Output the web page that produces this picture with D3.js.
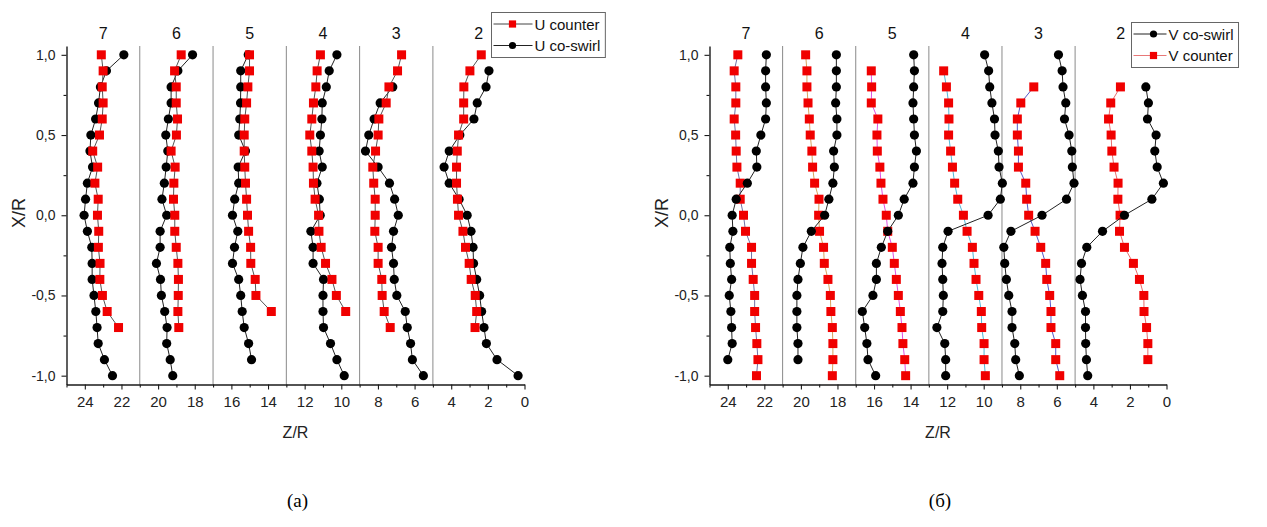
<!DOCTYPE html>
<html>
<head>
<meta charset="utf-8">
<script src="https://cdn.jsdelivr.net/npm/d3@7"></script>
<style>
  html, body { margin: 0; padding: 0; background: #fff; }
  svg { display: block; font-family: Arial, "Liberation Sans", sans-serif; }
</style>
</head>
<body>
<svg id="fig" width="1267" height="527"></svg>
<script>
// Radial stations X/R, from top to bottom of each profile
const xrLevels = [1.0, 0.9, 0.8, 0.7, 0.6, 0.5, 0.4, 0.3, 0.2, 0.1, 0.0,
                  -0.1, -0.2, -0.3, -0.4, -0.5, -0.6, -0.7, -0.8, -0.9, -1.0];

// Cross-sections, left to right, and their Z/R borders
const panelNames = ["7", "6", "5", "4", "3", "2"];
const panelEdges = [25, 21, 17, 13, 9, 5, 0];

// Axis ticks
const zTicks = [24, 22, 20, 18, 16, 14, 12, 10, 8, 6, 4, 2, 0];
const zMinorTicks = [25, 23, 21, 19, 17, 15, 13, 11, 9, 7, 5, 3, 1];
const xrTicks = [1.0, 0.5, 0.0, -0.5, -1.0];
const xrMinorTicks = [0.75, 0.25, -0.25, -0.75];

// (a) axial velocity U, one row per section (7 ... 2); null = no measurement
const uCounter = [
  [23.1, 23.0, 23.05, 23.0, 23.05, 23.2, 23.57, 23.3, 23.45, 23.27, 23.31, 23.24, 23.26, 23.17, 23.18, 23.04, 22.78, 22.16, null, null, null],
  [18.74, 19.1, 19.01, 19.01, 18.94, 19.0, 19.29, 19.07, 19.14, 19.16, 19.09, 19.09, 19.01, 18.92, 18.89, 18.9, 18.92, 18.87, null, null, null],
  [15.01, 15.01, 15.1, 15.17, 15.27, 15.3, 15.3, 15.27, 15.23, 15.17, 15.12, 15.06, 14.95, 14.94, 14.7, 14.66, 13.82, null, null, null, null],
  [11.14, 11.32, 11.39, 11.52, 11.61, 11.72, 11.61, 11.54, 11.52, 11.43, 11.24, 11.22, 11.1, 10.86, 10.51, 10.27, 9.76, null, null, null, null],
  [6.71, 6.93, 7.4, 7.55, 7.95, 7.99, 8.13, 8.28, 8.23, 8.15, 8.15, 8.17, 7.99, 7.99, 7.79, 7.77, 7.66, 7.33, null, null, null],
  [2.36, 2.98, 3.31, 3.32, 3.32, 3.6, 3.67, 3.71, 3.71, 3.66, 3.6, 3.36, 3.22, 3.02, 2.91, 2.69, 2.61, 2.7, null, null, null]
];
const uCoSwirl = [
  [21.87, 22.82, 23.15, 23.25, 23.41, 23.67, 23.72, 23.58, 23.86, 23.96, 24.04, 23.86, 23.62, 23.6, 23.6, 23.5, 23.4, 23.33, 23.27, 22.93, 22.49],
  [18.12, 18.92, 19.29, 19.29, 19.44, 19.58, 19.47, 19.56, 19.66, 19.79, 19.53, 19.89, 19.89, 20.09, 19.87, 19.82, 19.64, 19.51, 19.53, 19.34, 19.2],
  [15.08, 15.49, 15.49, 15.5, 15.54, 15.6, 15.23, 15.63, 15.6, 15.82, 15.94, 15.65, 15.83, 15.94, 15.6, 15.49, 15.41, 15.3, 15.06, 14.9, null],
  [10.24, 10.66, 10.82, 11.04, 11.06, 11.14, 11.21, 11.04, 11.33, 11.2, 11.15, 11.66, 11.54, 11.54, 10.97, 11.0, 11.0, 10.97, 10.59, 10.24, 9.84],
  [null, null, 7.19, 7.88, 8.21, 8.5, 8.68, 7.99, 7.37, 7.09, 6.89, 7.15, 7.26, 7.15, 7.11, 6.97, 6.51, 6.4, 6.22, 6.12, 5.52],
  [null, 1.94, 2.1, 2.58, 2.76, 3.53, 4.11, 4.39, 4.11, 3.57, 3.13, 2.92, 2.81, 2.78, 2.61, 2.45, 2.34, 2.21, 2.08, 1.5, 0.35]
];

// (б) tangential velocity V
const vCoSwirl = [
  [21.89, 21.93, 21.93, 21.89, 21.93, 22.19, 22.44, 22.41, 22.93, 23.54, 23.76, 23.72, 23.89, 23.86, 23.79, 23.92, 23.83, 23.79, 23.76, 24.0, null],
  [18.06, 18.06, 18.06, 18.1, 18.03, 18.03, 18.21, 18.17, 18.25, 18.47, 18.7, 19.43, 19.89, 20.03, 20.16, 20.22, 20.22, 20.22, 20.16, 20.16, null],
  [13.83, 13.79, 13.83, 13.87, 13.83, 13.79, 13.68, 13.79, 13.87, 14.35, 14.67, 15.25, 15.6, 15.87, 15.87, 16.06, 16.64, 16.51, 16.39, 16.33, 15.91],
  [9.95, 9.73, 9.67, 9.55, 9.41, 9.38, 9.2, 9.16, 8.98, 9.09, 9.76, 11.95, 12.24, 12.28, 12.24, 12.21, 12.24, 12.56, 12.13, 12.08, 12.08],
  [5.91, 5.71, 5.66, 5.51, 5.58, 5.33, 5.18, 5.15, 5.06, 5.47, 6.81, 8.51, 8.9, 8.85, 8.76, 8.63, 8.45, 8.45, 8.3, 8.25, 8.05],
  [null, null, 1.13, 0.99, 1.04, 0.57, 0.64, 0.51, 0.17, 0.8, 2.3, 3.5, 4.36, 4.65, 4.73, 4.6, 4.43, 4.43, 4.42, 4.38, 4.31]
];
const vCounter = [
  [23.45, 23.65, 23.56, 23.56, 23.65, 23.57, 23.54, 23.5, 23.32, 23.32, 23.14, 23.03, 22.7, 22.7, 22.61, 22.53, 22.53, 22.48, 22.41, 22.35, 22.43],
  [19.74, 19.67, 19.67, 19.61, 19.54, 19.49, 19.4, 19.36, 19.25, 19.01, 19.03, 18.98, 18.76, 18.72, 18.52, 18.39, 18.36, 18.28, 18.25, 18.25, 18.28],
  [null, 16.15, 16.13, 16.15, 15.79, 15.84, 15.82, 15.68, 15.62, 15.51, 15.33, 15.25, 15.0, 14.89, 14.78, 14.67, 14.56, 14.47, 14.42, 14.32, 14.27],
  [null, 12.19, 12.04, 11.92, 11.9, 11.92, 11.81, 11.71, 11.59, 11.42, 11.11, 10.91, 10.62, 10.53, 10.42, 10.27, 10.13, 10.11, 9.98, 9.98, 9.91],
  [null, null, 7.26, 7.97, 8.16, 8.16, 8.1, 8.1, 7.7, 7.65, 7.54, 7.19, 6.88, 6.61, 6.55, 6.39, 6.32, 6.32, 6.06, 6.06, 5.84],
  [null, null, 2.52, 3.05, 3.17, 3.03, 2.99, 2.87, 2.65, 2.66, 2.54, 2.57, 2.3, 1.81, 1.48, 1.24, 1.23, 1.09, 1.02, 1.02, null]
];

// Connecting-line colours for the counter-swirl profiles in (б), one per section
const vCounterLineColors = ["#7272a6", "#d9a25e", "#e052e0", "#52b6d6", "#5858c8", "#e86c6c"];

const RED = "#f00000";
const svg = d3.select("#fig");

const y = d3.scaleLinear().domain([-1.055, 1.055]).range([384.5, 46]);
const fmtXR = d => d3.format(".1f")(d).replace(".", ",").replace("\u2212", "-");

function drawChart(xRange, series, legend, caption) {
  const g = svg.append("g");
  const x = d3.scaleLinear().domain([panelEdges[0], panelEdges[panelEdges.length - 1]]).range(xRange);

  // section separators
  g.append("g").selectAll("line")
    .data(panelEdges.slice(1, -1))
    .join("line")
    .attr("x1", d => x(d)).attr("x2", d => x(d))
    .attr("y1", y.range()[1]).attr("y2", y.range()[0])
    .attr("stroke", "#8a8a8a").attr("stroke-width", 1);

  // section numbers
  g.append("g").selectAll("text")
    .data(panelNames)
    .join("text")
    .attr("x", (d, i) => x((panelEdges[i] + panelEdges[i + 1]) / 2))
    .attr("y", 39)
    .attr("text-anchor", "middle")
    .attr("font-size", 16)
    .attr("fill", "#111")
    .text(d => d);

  // axes
  const axisB = g.append("g").attr("transform", `translate(0,${y.range()[0]})`)
    .call(d3.axisBottom(x).tickValues(zTicks).tickFormat(d3.format("d"))
      .tickSize(5).tickSizeOuter(0).tickPadding(7));
  g.append("g").attr("transform", `translate(0,${y.range()[0]})`)
    .call(d3.axisBottom(x).tickValues(zMinorTicks).tickFormat("").tickSize(3).tickSizeOuter(0))
    .call(a => a.select(".domain").remove());
  const axisL = g.append("g").attr("transform", `translate(${xRange[0]},0)`)
    .call(d3.axisLeft(y).tickValues(xrTicks).tickFormat(fmtXR)
      .tickSize(5).tickSizeOuter(0).tickPadding(6));
  g.append("g").attr("transform", `translate(${xRange[0]},0)`)
    .call(d3.axisLeft(y).tickValues(xrMinorTicks).tickFormat("").tickSize(3).tickSizeOuter(0))
    .call(a => a.select(".domain").remove());

  g.selectAll(".domain").attr("stroke", "#1a1a1a").attr("stroke-width", 1.4);
  g.selectAll(".tick line").attr("stroke", "#1a1a1a").attr("stroke-width", 1.1);
  axisB.selectAll(".tick text").attr("font-size", 15).attr("fill", "#222").attr("font-family", "Arial, 'Liberation Sans', sans-serif");
  axisL.selectAll(".tick text").attr("font-size", 14).attr("fill", "#222").attr("font-family", "Arial, 'Liberation Sans', sans-serif");

  // axis titles
  const midX = (xRange[0] + xRange[1]) / 2;
  g.append("text")
    .attr("transform", `translate(${xRange[0] - 48},213) rotate(-90)`)
    .attr("text-anchor", "middle").attr("dominant-baseline", "central")
    .attr("font-size", 18).attr("fill", "#222").text("X/R");
  g.append("text")
    .attr("x", midX).attr("y", 438)
    .attr("text-anchor", "middle")
    .attr("font-size", 16).attr("fill", "#222").text("Z/R");
  g.append("text")
    .attr("x", midX + 2).attr("y", 507)
    .attr("text-anchor", "middle")
    .attr("font-family", "'Liberation Serif', 'Times New Roman', serif")
    .attr("font-size", 19).attr("fill", "#000").text(caption);

  // profiles
  const line = d3.line().x(d => x(d.z)).y(d => y(d.xr));
  series.forEach(s => {
    s.values.forEach((vals, p) => {
      const pts = xrLevels.map((xr, i) => ({ xr, z: vals[i] })).filter(d => d.z != null);
      g.append("path").datum(pts)
        .attr("d", line).attr("fill", "none")
        .attr("stroke", s.lineColors[p]).attr("stroke-width", 1);
      const mk = g.append("g");
      if (s.shape === "circle") {
        mk.selectAll("circle").data(pts).join("circle")
          .attr("cx", d => x(d.z)).attr("cy", d => y(d.xr)).attr("r", 4.6)
          .attr("fill", s.fill);
      } else {
        mk.selectAll("rect").data(pts).join("rect")
          .attr("x", d => x(d.z) - 4.5).attr("y", d => y(d.xr) - 4.5)
          .attr("width", 9).attr("height", 9)
          .attr("fill", s.fill);
      }
    });
  });

  // legend
  const lg = g.append("g");
  const box = lg.append("rect")
    .attr("x", legend.x).attr("y", legend.y).attr("height", 45)
    .attr("fill", "#fff").attr("stroke", "#666").attr("stroke-width", 1);
  let maxW = 0;
  legend.items.forEach((it, i) => {
    const cy = legend.y + 11.5 + i * 21.5;
    lg.append("line")
      .attr("x1", legend.x + 2).attr("x2", legend.x + 2 + legend.lineLen)
      .attr("y1", cy).attr("y2", cy)
      .attr("stroke", it.lineColor).attr("stroke-width", 1);
    const mx = legend.x + legend.markerAt;
    if (it.shape === "circle") {
      lg.append("circle").attr("cx", mx).attr("cy", cy).attr("r", 3.6).attr("fill", it.fill);
    } else {
      lg.append("rect").attr("x", mx - 3.6).attr("y", cy - 3.6)
        .attr("width", 7.2).attr("height", 7.2).attr("fill", it.fill);
    }
    const t = lg.append("text")
      .attr("x", legend.x + legend.lineLen + 4).attr("y", cy)
      .attr("dominant-baseline", "central")
      .attr("font-size", 15).attr("fill", "#111").text(it.label);
    maxW = Math.max(maxW, t.node().getComputedTextLength());
  });
  box.attr("width", legend.lineLen + 4 + maxW + 5);
}

// (a) U profiles
drawChart([66.5, 524.5], [
  { values: uCoSwirl, shape: "circle", fill: "#000", lineColors: panelNames.map(() => "#222") },
  { values: uCounter, shape: "square", fill: RED, lineColors: panelNames.map(() => "#555") }
], {
  x: 491.5, y: 12.5, lineLen: 39, markerAt: 21,
  items: [
    { label: "U counter", shape: "square", fill: RED, lineColor: "#444" },
    { label: "U co-swirl", shape: "circle", fill: "#000", lineColor: "#222" }
  ]
}, "(а)");

// (б) V profiles
drawChart([709.5, 1166.5], [
  { values: vCounter, shape: "square", fill: RED, lineColors: vCounterLineColors },
  { values: vCoSwirl, shape: "circle", fill: "#000", lineColors: panelNames.map(() => "#222") }
], {
  x: 1131.5, y: 22.5, lineLen: 33, markerAt: 22,
  items: [
    { label: "V co-swirl", shape: "circle", fill: "#000", lineColor: "#222" },
    { label: "V counter", shape: "square", fill: RED, lineColor: "#e87878" }
  ]
}, "(б)");
</script>
</body>
</html>
